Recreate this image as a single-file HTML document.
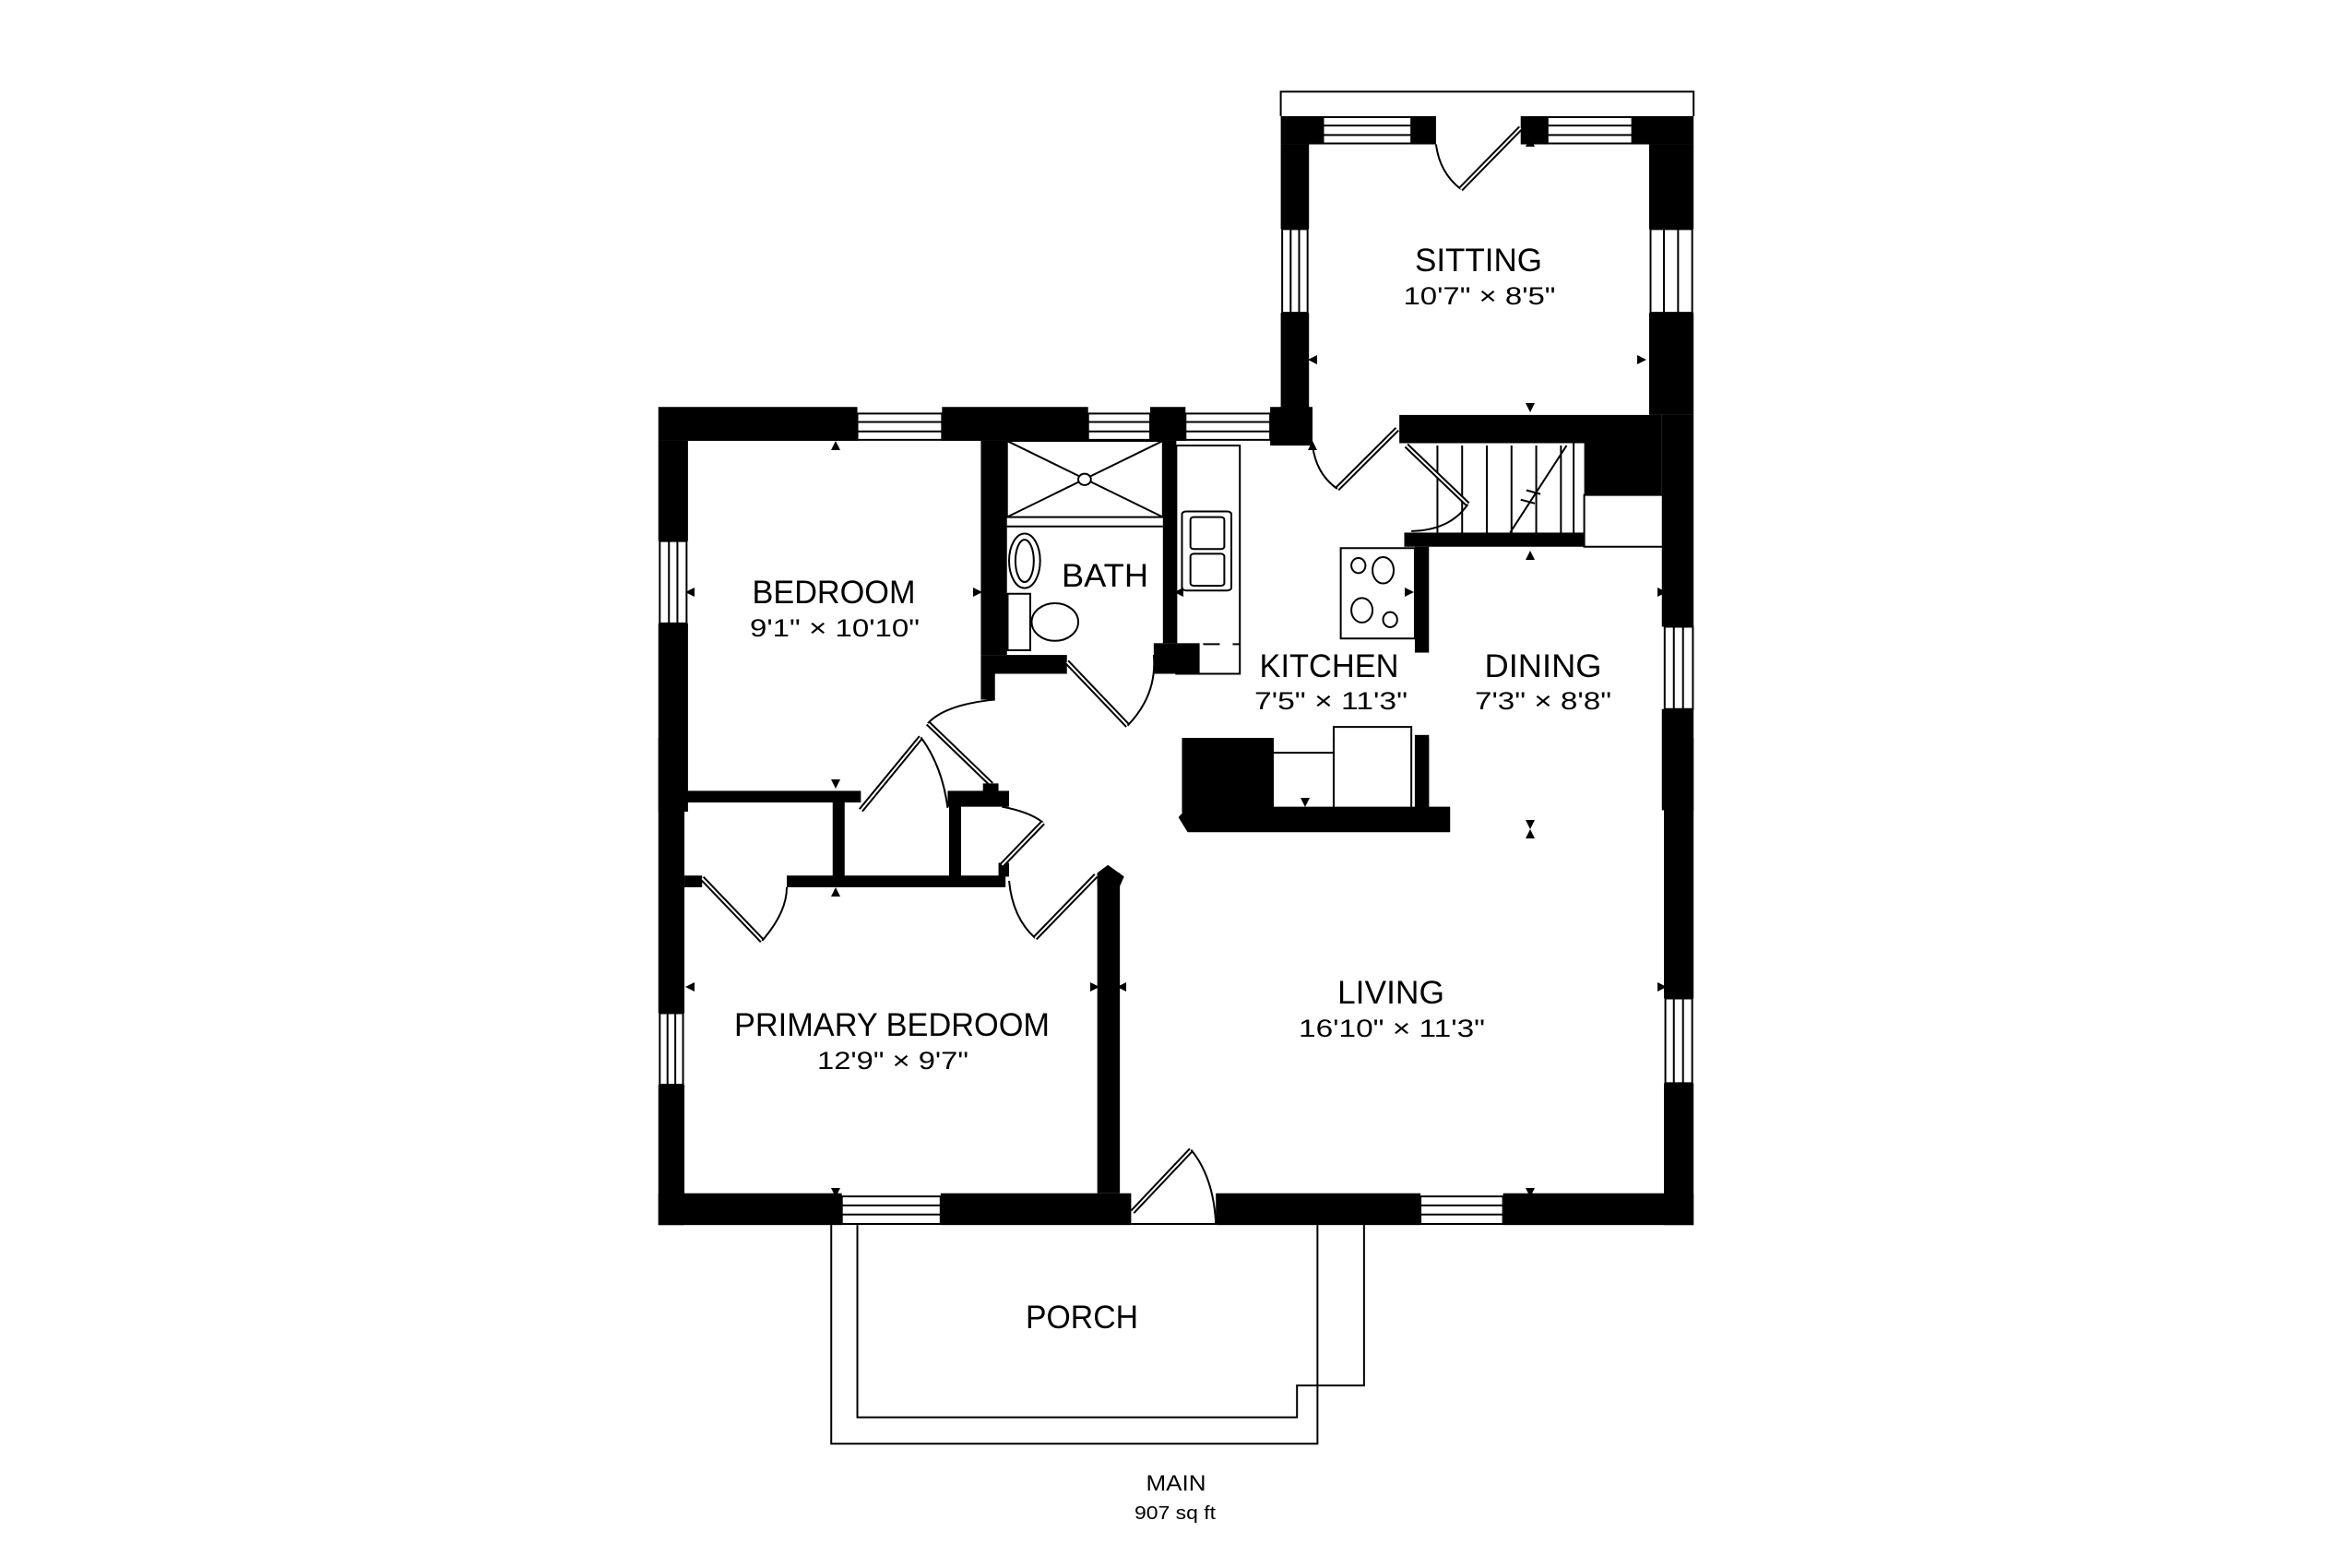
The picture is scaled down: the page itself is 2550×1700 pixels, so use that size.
<!DOCTYPE html>
<html><head><meta charset="utf-8"><style>
html,body{margin:0;padding:0;background:#fff;}
svg{display:block;}
text{font-family:"Liberation Sans",sans-serif;fill:#000;}
</style></head><body>
<svg width="2550" height="1700" viewBox="0 0 2550 1700" xmlns="http://www.w3.org/2000/svg">
<rect width="2550" height="1700" fill="#fff"/>
<defs>
<style>
.w{fill:#000}
.s{fill:none;stroke:#000;stroke-width:2;vector-effect:non-scaling-stroke}
.sw{fill:#fff;stroke:#000;stroke-width:2;vector-effect:non-scaling-stroke}
.leaf{fill:none;stroke:#000;stroke-width:6;vector-effect:non-scaling-stroke}
.leafi{fill:none;stroke:#fff;stroke-width:2;vector-effect:non-scaling-stroke}
</style>
<path id="t" d="M-5 5H5L0-5Z" fill="#000"/>
</defs>
<!-- Group 1: upper part -->
<g transform="translate(700,80) scale(0.7651,0.5102)">
  <path class="s" d="M900 90 V38 H1485 V90"/>
  <rect class="w" x="900" y="90" width="60" height="60"/>
  <rect class="w" x="1085" y="90" width="35" height="60"/>
  <rect class="w" x="1240" y="90" width="38" height="60"/>
  <rect class="w" x="1398" y="90" width="87" height="60"/>
  <rect class="sw" x="960" y="92" width="125" height="56"/><path class="s" d="M960 110H1085M960 130H1085"/>
  <rect class="sw" x="1278" y="92" width="120" height="56"/><path class="s" d="M1278 110H1398M1278 130H1398"/>
  <rect class="w" x="900" y="150" width="40" height="180"/>
  <rect class="sw" x="902" y="330" width="36" height="178"/><path class="s" d="M914 330V508M926 330V508"/>
  <rect class="w" x="900" y="508" width="40" height="220"/>
  <rect class="w" x="885" y="708" width="60" height="82"/>
  <rect class="w" x="1422" y="150" width="63" height="180"/>
  <rect class="sw" x="1424" y="330" width="59" height="178"/><path class="s" d="M1443 330V508M1463 330V508"/>
  <rect class="w" x="1422" y="508" width="63" height="217"/>
  <rect class="w" x="1440" y="725" width="45" height="450"/>
  <rect class="sw" x="1444" y="1175" width="40" height="175"/><path class="s" d="M1457 1175V1350M1470 1175V1350"/>
  <rect class="w" x="1440" y="1350" width="45" height="215"/>
  <rect class="w" x="1068" y="725" width="372" height="60"/>
  <rect class="w" x="1330" y="785" width="110" height="110"/>
  <rect class="s" x="1330" y="895" width="112" height="110"/>
  <rect class="w" x="1075" y="975" width="255" height="30"/>
  <path class="s" d="M1315 785V975 M1122 790V975 M1157 790V975 M1192 790V975 M1227 790V975 M1262 790V975 M1297 790V975 M1305 790 L1225 975 M1248 885 l20 8 M1240 905 l20 8"/>
  <path class="leaf" d="M1078 790 L1165 915"/><path class="leafi" d="M1078 790 L1165 915"/>
  <path class="s" d="M1165 915 Q1140 970 1085 972"/>
  <rect class="w" x="1090" y="1005" width="20" height="225"/>
  <rect class="sw" x="985" y="1008" width="105" height="192"/>
  <ellipse class="s" cx="1010" cy="1045" rx="10" ry="16"/>
  <ellipse class="s" cx="1045" cy="1055" rx="15" ry="28"/>
  <ellipse class="s" cx="1015" cy="1140" rx="15" ry="26"/>
  <ellipse class="s" cx="1055" cy="1160" rx="10" ry="16"/>
  <rect class="w" x="18" y="708" width="282" height="72"/>
  <rect class="sw" x="300" y="722" width="120" height="56"/><path class="s" d="M300 740H420M300 760H420"/>
  <rect class="w" x="420" y="708" width="207" height="72"/>
  <rect class="sw" x="627" y="722" width="88" height="56"/><path class="s" d="M627 740H715M627 760H715"/>
  <rect class="w" x="715" y="708" width="50" height="72"/>
  <rect class="sw" x="765" y="722" width="120" height="56"/><path class="s" d="M765 740H885M765 760H885"/>
  <rect class="w" x="18" y="780" width="42" height="213"/>
  <rect class="sw" x="20" y="993" width="38" height="175"/><path class="s" d="M33 993V1168M45 993V1168"/>
  <rect class="w" x="18" y="1168" width="42" height="400"/>
  <rect class="w" x="475" y="780" width="37" height="455"/>
  <rect class="w" x="475" y="1235" width="122" height="40"/>
  <rect class="w" x="475" y="1275" width="20" height="55"/>
  <rect class="w" x="733" y="780" width="19" height="430"/>
  <rect class="w" x="720" y="1210" width="65" height="65"/>
  <rect class="s" x="512" y="780" width="221" height="162"/>
  <path class="s" d="M512 780L733 942M733 780L512 942M512 962H733"/>
  <ellipse class="sw" cx="622" cy="862" rx="9" ry="12"/>
  <ellipse class="s" cx="537" cy="1035" rx="22" ry="58"/>
  <ellipse class="s" cx="537" cy="1035" rx="13" ry="45"/>
  <rect class="s" x="513" y="1105" width="32" height="120"/>
  <ellipse class="s" cx="580" cy="1165" rx="33" ry="40"/>
  <path class="leaf" d="M597 1250L683 1385"/><path class="leafi" d="M597 1250L683 1385"/>
  <path class="s" d="M683 1385 Q725 1320 720 1235"/>
  <rect class="s" x="752" y="790" width="90" height="485"/>
  <rect class="s" x="760" y="930" width="70" height="168" rx="6"/>
  <rect class="s" x="772" y="942" width="48" height="68" rx="5"/>
  <rect class="s" x="772" y="1020" width="48" height="68" rx="5"/>
  <path class="s" d="M790 1212H842" stroke-dasharray="18 14"/>
  <path class="leaf" d="M980 882L1065 755"/><path class="leafi" d="M980 882L1065 755"/>
  <path class="s" d="M945 790 Q950 850 980 882"/>
  <path class="s" d="M1120 150 Q1125 210 1155 245"/>
  <path class="leaf" d="M1155 245L1240 115"/><path class="leafi" d="M1155 245L1240 115"/>
  <path class="leaf" d="M400 1380L490 1510"/><path class="leafi" d="M400 1380L490 1510"/>
  <path class="s" d="M495 1330 Q425 1340 400 1380"/>
  <path class="leaf" d="M305 1565L390 1410"/><path class="leafi" d="M305 1565L390 1410"/>
  <path class="s" d="M390 1410 Q420 1470 428 1560"/>
  <rect class="s" x="975" y="1388" width="110" height="200"/>
  <rect class="w" x="1090" y="1405" width="20" height="165"/>
  <rect class="w" x="760" y="1420" width="130" height="150"/>
</g>
<!-- Group 2: lower part -->
<g transform="translate(700,800) scale(0.7651,0.5741)">
  <rect class="w" x="18" y="0" width="37" height="520"/>
  <rect class="sw" x="20" y="520" width="33" height="135"/><path class="s" d="M31 520V655M42 520V655"/>
  <rect class="w" x="18" y="655" width="37" height="265"/>
  <rect class="w" x="55" y="100" width="250" height="22"/>
  <rect class="w" x="428" y="100" width="87" height="30"/>
  <rect class="w" x="478" y="86" width="22" height="18"/>
  <rect class="w" x="265" y="122" width="17" height="140"/>
  <rect class="w" x="430" y="122" width="17" height="140"/>
  <rect class="w" x="55" y="260" width="25" height="22"/>
  <rect class="w" x="200" y="260" width="310" height="22"/>
  <rect class="w" x="500" y="236" width="15" height="26"/>
  <path class="s" d="M505 130 Q545 140 563 160"/>
  <path class="leaf" d="M563 160L505 240"/><path class="leafi" d="M563 160L505 240"/>
  <path class="leaf" d="M80 265L165 383"/><path class="leafi" d="M80 265L165 383"/>
  <path class="s" d="M165 383 Q200 330 200 282"/>
  <path class="s" d="M515 270 Q520 340 552 378"/>
  <path class="leaf" d="M552 378L638 260"/><path class="leafi" d="M552 378L638 260"/>
  <rect class="w" x="640" y="255" width="32" height="605"/>
  <polygon class="w" points="640,255 655,240 678,262 672,280 640,280"/>
  <rect class="w" x="18" y="860" width="260" height="60"/>
  <rect class="sw" x="278" y="866" width="140" height="52"/><path class="s" d="M278 883H418M278 900H418"/>
  <rect class="w" x="418" y="860" width="270" height="60"/>
  <rect class="w" x="808" y="860" width="290" height="60"/>
  <rect class="sw" x="1098" y="866" width="117" height="52"/><path class="s" d="M1098 883H1215M1098 900H1215"/>
  <rect class="w" x="1215" y="860" width="270" height="60"/>
  <rect class="w" x="1443" y="0" width="42" height="492"/>
  <rect class="sw" x="1445" y="492" width="38" height="160"/><path class="s" d="M1457 492V652M1470 492V652"/>
  <rect class="w" x="1443" y="652" width="42" height="268"/>
  <path class="leaf" d="M690 895L773 778"/><path class="leafi" d="M690 895L773 778"/>
  <path class="s" d="M773 778 Q805 830 808 918 M688 918H808"/>
  <path class="s" d="M263 920V1333H952V920 M1018 920V1223H952 M300 920V1283H923V1223H952"/>
  <rect class="w" x="760" y="0" width="130" height="130"/>
  <polygon class="w" points="768,130 1140,130 1140,178 768,178 755,150"/>
  <rect class="w" x="1090" y="0" width="20" height="130"/>
  <path class="s" d="M890 28H975 M975 0V130"/>
</g>
<!-- dimension arrowheads -->
<use href="#t" transform="translate(906,483)"/>
<use href="#t" transform="translate(748,642) rotate(-90)"/>
<use href="#t" transform="translate(1060,642) rotate(90)"/>
<use href="#t" transform="translate(906,850) rotate(180)"/>
<use href="#t" transform="translate(906,967)"/>
<use href="#t" transform="translate(748,1070) rotate(-90)"/>
<use href="#t" transform="translate(1187,1070) rotate(90)"/>
<use href="#t" transform="translate(1216,1070) rotate(-90)"/>
<use href="#t" transform="translate(906,1293) rotate(180)"/>
<use href="#t" transform="translate(1659,1293) rotate(180)"/>
<use href="#t" transform="translate(1802,1070) rotate(90)"/>
<use href="#t" transform="translate(1659,894) rotate(180)"/>
<use href="#t" transform="translate(1659,904)"/>
<use href="#t" transform="translate(1415,870) rotate(180)"/>
<use href="#t" transform="translate(1802,642) rotate(90)"/>
<use href="#t" transform="translate(1528,642) rotate(90)"/>
<use href="#t" transform="translate(1541,642) rotate(-90)"/>
<use href="#t" transform="translate(1659,602)"/>
<use href="#t" transform="translate(1659,442) rotate(180)"/>
<use href="#t" transform="translate(1423,390) rotate(-90)"/>
<use href="#t" transform="translate(1780,390) rotate(90)"/>
<use href="#t" transform="translate(1659,154)"/>
<use href="#t" transform="translate(1423,483)"/>
<use href="#t" transform="translate(1278,642) rotate(-90)"/>
<!-- labels -->
<g text-anchor="middle">
<text x="1603" y="294" font-size="35" textLength="138" lengthAdjust="spacingAndGlyphs">SITTING</text>
<text x="1604" y="330" font-size="27" textLength="165" lengthAdjust="spacingAndGlyphs">10'7" × 8'5"</text>
<text x="904" y="654" font-size="35" textLength="177" lengthAdjust="spacingAndGlyphs">BEDROOM</text>
<text x="905" y="690" font-size="27" textLength="184" lengthAdjust="spacingAndGlyphs">9'1" × 10'10"</text>
<text x="1198" y="636" font-size="35" textLength="94" lengthAdjust="spacingAndGlyphs">BATH</text>
<text x="1441" y="734" font-size="35" textLength="151" lengthAdjust="spacingAndGlyphs">KITCHEN</text>
<text x="1443" y="769" font-size="27" textLength="166" lengthAdjust="spacingAndGlyphs">7'5" × 11'3"</text>
<text x="1673" y="734" font-size="35" textLength="127" lengthAdjust="spacingAndGlyphs">DINING</text>
<text x="1673" y="769" font-size="27" textLength="148" lengthAdjust="spacingAndGlyphs">7'3" × 8'8"</text>
<text x="1508" y="1088" font-size="35" textLength="116" lengthAdjust="spacingAndGlyphs">LIVING</text>
<text x="1509" y="1124" font-size="27" textLength="202" lengthAdjust="spacingAndGlyphs">16'10" × 11'3"</text>
<text x="967" y="1123" font-size="35" textLength="342" lengthAdjust="spacingAndGlyphs">PRIMARY BEDROOM</text>
<text x="968" y="1159" font-size="27" textLength="164" lengthAdjust="spacingAndGlyphs">12'9" × 9'7"</text>
<text x="1173" y="1440" font-size="35" textLength="122" lengthAdjust="spacingAndGlyphs">PORCH</text>
<text x="1275" y="1616" font-size="24" textLength="65" lengthAdjust="spacingAndGlyphs">MAIN</text>
<text x="1274" y="1647" font-size="20" textLength="88" lengthAdjust="spacingAndGlyphs">907 sq ft</text>
</g>
</svg>
</body></html>
